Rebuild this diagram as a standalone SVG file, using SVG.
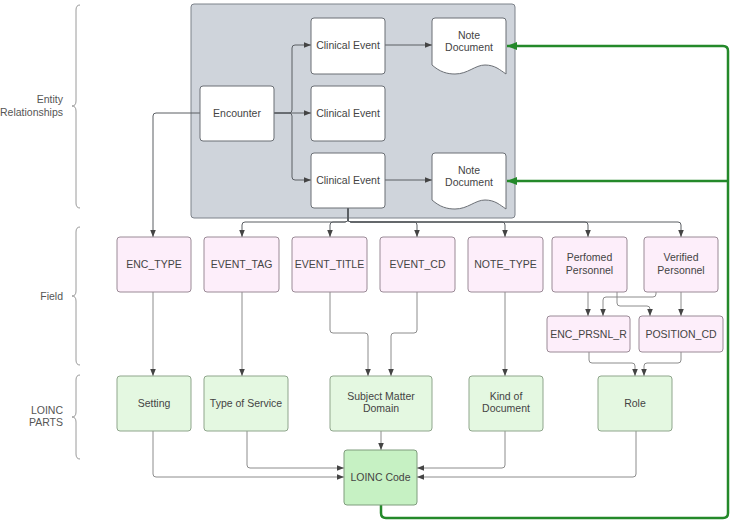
<svg xmlns="http://www.w3.org/2000/svg" width="735" height="526" viewBox="0 0 735 526">
<style>
text{font-family:"Liberation Sans",Arial,sans-serif;font-size:10.5px;fill:#444;text-anchor:middle}
.lbl{text-anchor:end;fill:#555}
.brace{fill:none;stroke:#9a9a9a;stroke-width:1}
.ent{fill:#fff;stroke:#6b6f75;stroke-width:1}
.fld{fill:#fdeefa;stroke:#9a8a96;stroke-width:1}
.lp{fill:#e4f8e1;stroke:#8fa58c;stroke-width:1}
.code{fill:#c6f1c3;stroke:#7f9c7d;stroke-width:1}
.c{fill:none;stroke:#8c8c8c;stroke-width:1;marker-end:url(#ah)}
.cd{fill:none;stroke:#5a5e63;stroke-width:1;marker-end:url(#ah)}
.g{fill:none;stroke:#24892a;stroke-width:2.5}
</style>
<defs>
<marker id="ah" viewBox="0 0 10 10" refX="10" refY="5" markerWidth="7" markerHeight="7" markerUnits="userSpaceOnUse" orient="auto"><path d="M0,1 L10,5 L0,9 z" fill="#444"/></marker>
<marker id="gh" viewBox="0 0 10 10" refX="10" refY="5" markerWidth="10" markerHeight="10" markerUnits="userSpaceOnUse" orient="auto"><path d="M0,1 L10,5 L0,9 z" fill="#24892a"/></marker>
</defs>
<rect width="735" height="526" fill="#fff"/>

<g id="labels">
<path class="brace" d="M80,5 Q76,5 76,10 L76,101 Q76,106 72,106 Q76,106 76,111 L76,203 Q76,208 80,208"/>
<text class="lbl" x="63" y="103">Entity</text>
<text class="lbl" x="63" y="116">Relationships</text>
<path class="brace" d="M80,227 Q76,227 76,232 L76,291 Q76,296 72,296 Q76,296 76,301 L76,360 Q76,365 80,365"/>
<text class="lbl" x="63" y="300">Field</text>
<path class="brace" d="M80,375 Q76,375 76,380 L76,412 Q76,417 72,417 Q76,417 76,422 L76,454 Q76,459 80,459"/>
<text class="lbl" x="63" y="414">LOINC</text>
<text class="lbl" x="63" y="426">PARTS</text>
</g>

<g id="container"><rect x="191" y="4" width="324" height="214" rx="3" fill="#cfd4db" stroke="#7d828a" stroke-width="1"/></g>

<g id="connectors">
<path class="cd" d="M274,113 H289 Q292,113 292,110 V48 Q292,45 295,45 H311"/>
<path class="cd" d="M274,113 H311"/>
<path class="cd" d="M274,113 H289 Q292,113 292,116 V177 Q292,180 295,180 H311"/>
<path class="cd" d="M385,45 H432"/>
<path class="cd" d="M385,180 H432"/>
<path class="cd" d="M200,113 H156 Q153,113 153,116 V237"/>
<path class="cd" d="M348,208 V219 Q348,222 345,222 H245 Q242,222 242,225 V237"/>
<path class="cd" d="M348,208 V219 Q348,222 345,222 H333 Q330,222 330,225 V237"/>
<path class="cd" d="M348,208 V219 Q348,222 351,222 H414 Q417,222 417,225 V237"/>
<path class="cd" d="M348,208 V219 Q348,222 351,222 H502 Q505,222 505,225 V237"/>
<path class="cd" d="M348,208 V219 Q348,222 351,222 H585 Q588,222 588,225 V237"/>
<path class="cd" d="M348,208 V219 Q348,222 351,222 H678 Q681,222 681,225 V237"/>
<path class="c" d="M153,292 V376"/>
<path class="c" d="M242,292 V376"/>
<path class="c" d="M330,292 V330 Q330,333 333,333 H365 Q368,333 368,336 V376"/>
<path class="c" d="M417,292 V330 Q417,333 414,333 H394 Q391,333 391,336 V376"/>
<path class="c" d="M505,292 V376"/>
<path class="c" d="M588,292 V316"/>
<path class="c" d="M617,292 V303 Q617,306 620,306 H647 Q650,306 650,309 V316"/>
<path class="c" d="M656,292 V294 Q656,297 653,297 H606 Q603,297 603,300 V316"/>
<path class="c" d="M681,292 V316"/>
<path class="c" d="M589,352 V360 Q589,363 592,363 H632 Q635,363 635,366 V376"/>
<path class="c" d="M681,352 V360 Q681,363 678,363 H647 Q644,363 644,366 V376"/>
<path class="c" d="M153,431 V474 Q153,477 156,477 H344"/>
<path class="c" d="M247,431 V465 Q247,468 250,468 H344"/>
<path class="c" d="M381,431 V450"/>
<path class="c" d="M505,431 V465 Q505,468 502,468 H417"/>
<path class="c" d="M636,431 V474 Q636,477 633,477 H417"/>
<path class="g" d="M381,505 V513 Q381,518 386,518 H723 Q728,518 728,513 V51 Q728,46 723,46 H507" marker-end="url(#gh)"/>
<path class="g" d="M728,181 H507" marker-end="url(#gh)"/>
</g>

<g id="encounter"><rect class="ent" x="200" y="86" width="74" height="55" rx="3"/><text x="237" y="117">Encounter</text></g>
<g id="clinical-event-1"><rect class="ent" x="311" y="18" width="74" height="56" rx="3"/><text x="348" y="49">Clinical Event</text></g>
<g id="clinical-event-2"><rect class="ent" x="311" y="86" width="74" height="55" rx="3"/><text x="348" y="117">Clinical Event</text></g>
<g id="clinical-event-3"><rect class="ent" x="311" y="153" width="74" height="55" rx="3"/><text x="348" y="184">Clinical Event</text></g>
<g id="note-document-1"><path class="ent" d="M435,18 H503 Q506,18 506,21 V74 C500,70 495,65 485,65 C475,65 468,74 455,74 C447,74 440,72 432,65 V21 Q432,18 435,18 Z"/><text x="469" y="39">Note</text><text x="469" y="51">Document</text></g>
<g id="note-document-2"><path class="ent" d="M435,153 H503 Q506,153 506,156 V209 C500,205 495,200 485,200 C475,200 468,209 455,209 C447,209 440,207 432,200 V156 Q432,153 435,153 Z"/><text x="469" y="174">Note</text><text x="469" y="186">Document</text></g>

<g id="enc-type"><rect class="fld" x="117" y="237" width="74" height="55" rx="3"/><text x="154" y="268">ENC_TYPE</text></g>
<g id="event-tag"><rect class="fld" x="204" y="237" width="75" height="55" rx="3"/><text x="241.5" y="268">EVENT_TAG</text></g>
<g id="event-title"><rect class="fld" x="292" y="237" width="75" height="55" rx="3"/><text x="329.5" y="268">EVENT_TITLE</text></g>
<g id="event-cd"><rect class="fld" x="380" y="237" width="75" height="55" rx="3"/><text x="417.5" y="268">EVENT_CD</text></g>
<g id="note-type"><rect class="fld" x="468" y="237" width="75" height="55" rx="3"/><text x="505.5" y="268">NOTE_TYPE</text></g>
<g id="perfomed-personnel"><rect class="fld" x="552" y="237" width="75" height="55" rx="3"/><text x="589.5" y="261">Perfomed</text><text x="589.5" y="274">Personnel</text></g>
<g id="verified-personnel"><rect class="fld" x="644" y="237" width="74" height="55" rx="3"/><text x="681" y="261">Verified</text><text x="681" y="274">Personnel</text></g>
<g id="enc-prsnl-r"><rect class="fld" x="547" y="316" width="83" height="36" rx="3"/><text x="588.5" y="338">ENC_PRSNL_R</text></g>
<g id="position-cd"><rect class="fld" x="639" y="316" width="84" height="36" rx="3"/><text x="681" y="338">POSITION_CD</text></g>

<g id="setting"><rect class="lp" x="117" y="376" width="74" height="55" rx="3"/><text x="154" y="407">Setting</text></g>
<g id="type-of-service"><rect class="lp" x="204" y="376" width="84" height="55" rx="3"/><text x="246" y="407">Type of Service</text></g>
<g id="subject-matter-domain"><rect class="lp" x="330" y="376" width="102" height="55" rx="3"/><text x="381" y="400">Subject Matter</text><text x="381" y="412">Domain</text></g>
<g id="kind-of-document"><rect class="lp" x="469" y="376" width="74" height="55" rx="3"/><text x="506" y="400">Kind of</text><text x="506" y="412">Document</text></g>
<g id="role"><rect class="lp" x="598" y="376" width="74" height="55" rx="3"/><text x="635" y="407">Role</text></g>
<g id="loinc-code"><rect class="code" x="344" y="450" width="73" height="55" rx="3"/><text x="380.5" y="481">LOINC Code</text></g>
</svg>
